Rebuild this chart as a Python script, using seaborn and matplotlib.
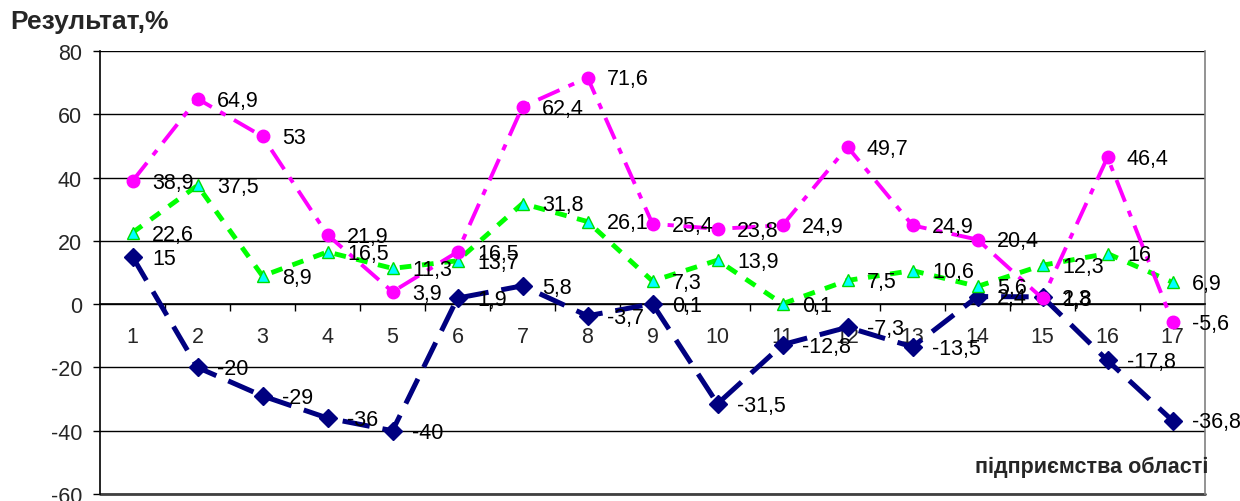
import matplotlib
matplotlib.use("Agg")
import matplotlib.pyplot as plt
import seaborn as sns
import pandas as pd
import numpy as np
from matplotlib.ticker import FixedLocator

categories = list(range(1, 18))
navy_vals = [15, -20, -29, -36, -40, 1.9, 5.8, -3.7, 0.1, -31.5, -12.8, -7.3, -13.5, 2.4, 2.3, -17.8, -36.8]
green_vals = [22.6, 37.5, 8.9, 16.5, 11.3, 13.7, 31.8, 26.1, 7.3, 13.9, 0.1, 7.5, 10.6, 5.6, 12.3, 16, 6.9]
pink_vals = [38.9, 64.9, 53, 21.9, 3.9, 16.5, 62.4, 71.6, 25.4, 23.8, 24.9, 49.7, 24.9, 20.4, 1.8, 46.4, -5.6]
y_ticks = [-60, -40, -20, 0, 20, 40, 60, 80]
y_title = "Результат,%"
x_title = "підприємства області"

sns.set_theme(style="white")
plt.rcParams['font.family'] = ['Liberation Sans', 'DejaVu Sans']
plt.rcParams['axes.unicode_minus'] = False

fig = plt.figure(figsize=(12.4, 5.02), dpi=100)
ax = fig.add_axes([100/1240, 1-495/502, 1105/1240, (495-52)/502])

def fmt(v):
    s = ("%g" % v).replace(".", ",")
    return s

series = [
    (navy_vals, "#000080", "D", 9.5, "#000080", "#000080", 3.6, (0, (5.5, 2.6)), 3),
    (green_vals, "#00FF00", "^", 9.0, "#00FFFF", "#00DD00", 3.5, (0, (2.4, 2.2)), 4),
    (pink_vals, "#FF00FF", "o", 9.0, "#FF00FF", "#FF00FF", 2.8, (0, (6.0, 2.5, 1.6, 2.5)), 5),
]

FS = 15.5
for vals, col, mk, ms, mfc, mec, lw, ls, z in series:
    df = pd.DataFrame({"x": categories, "y": vals})
    sns.lineplot(data=df, x="x", y="y", ax=ax, color=col, marker=mk, markersize=ms,
                 markerfacecolor=mfc, markeredgecolor=mec, markeredgewidth=1.0,
                 linewidth=lw, linestyle=ls, zorder=z, legend=False)
    for xv, yv in zip(categories, vals):
        ax.annotate(fmt(yv), (xv, yv), xytext=(14, -1), textcoords="offset points",
                    ha="left", va="center", fontsize=FS, color="black", zorder=10)

ax.set_xlim(0.5, 17.5)
ax.set_ylim(-60, 80)
ax.set_yticks(y_ticks)
ax.yaxis.grid(True, color="black", linewidth=1.0)
ax.set_axisbelow(True)

ax.spines['bottom'].set_position(('data', 0))
ax.spines['bottom'].set_color("black")
ax.spines['bottom'].set_linewidth(1.2)
ax.spines['left'].set_color("black")
ax.spines['left'].set_linewidth(1.2)
ax.spines['top'].set_visible(False)
ax.spines['right'].set_color("#808080")
ax.spines['right'].set_linewidth(1.2)
ax.axhline(-60, color="#404040", linewidth=2.0, zorder=1, clip_on=False)

ax.set_xticks(categories)
ax.set_xticklabels([str(c) for c in categories], fontsize=FS)
ax.xaxis.set_minor_locator(FixedLocator(np.arange(1.5, 17.5, 1.0)))
ax.tick_params(axis="x", which="major", length=0, pad=16)
ax.tick_params(axis="x", which="minor", length=5, width=1, color="black", direction="out", bottom=True)
ax.tick_params(axis="y", which="major", length=5, width=1, color="black", direction="out",
               left=True, labelsize=FS, pad=8)
ax.set_xlabel("")
ax.set_ylabel("")

fig.text(10/1240, 1-22/502, y_title, fontsize=19, fontweight="bold", ha="left", va="center")
fig.text(1208/1240, 1-467/502, x_title, fontsize=15.5, fontweight="bold", ha="right", va="center")

fig.savefig("out.png", dpi=100)
